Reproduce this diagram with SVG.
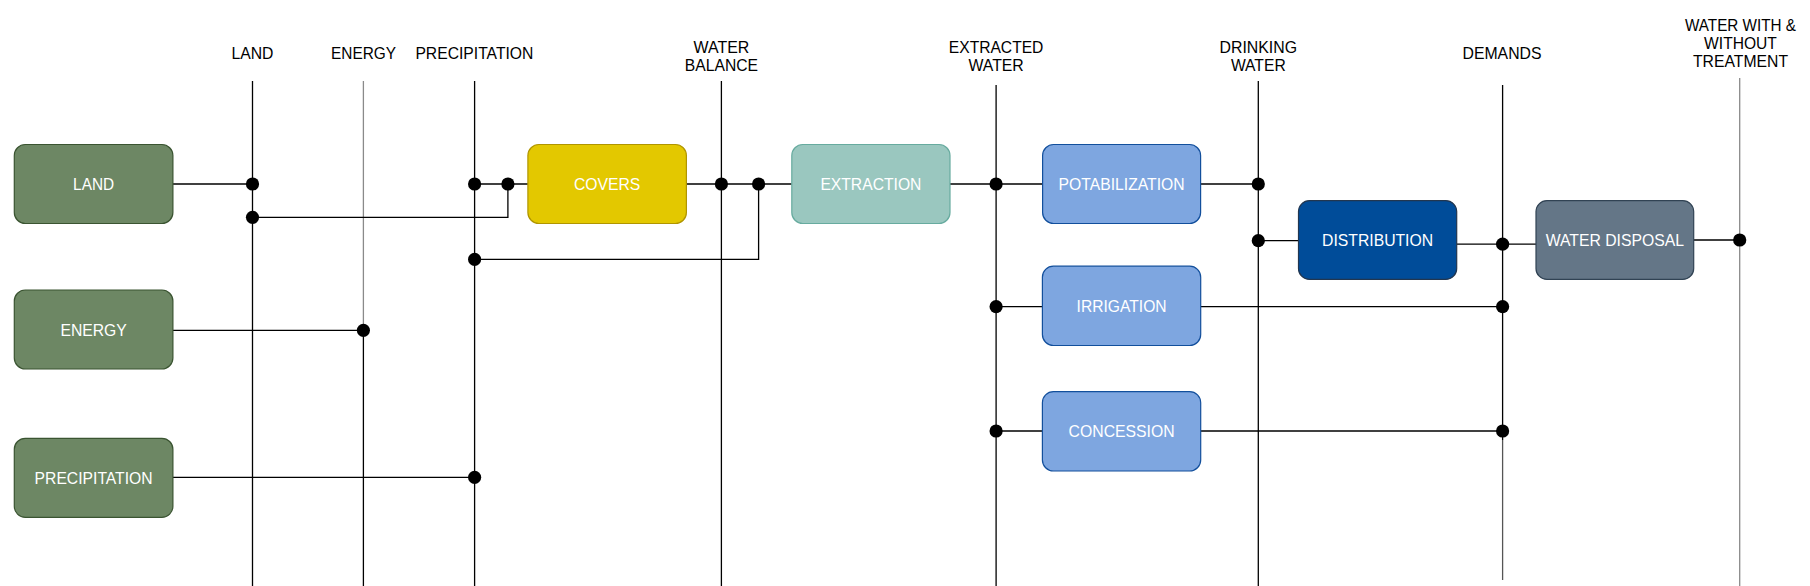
<svg xmlns="http://www.w3.org/2000/svg" width="1810" height="586" viewBox="0 0 1810 586">
<style>
.lbl{font-family:"Liberation Sans",Arial,sans-serif;font-size:17px;fill:#000;text-anchor:middle}
.bl{font-family:"Liberation Sans",Arial,sans-serif;font-size:17px;fill:#fff;text-anchor:middle}
.ln{stroke:#000;stroke-width:1.3;fill:none}
.lg{stroke:#8a8a8a;stroke-width:1.3;fill:none}
.dot{fill:#000}
.green{fill:#6d8764;stroke:#3a5431;stroke-width:1.2}
.yellow{fill:#e3c800;stroke:#b09500;stroke-width:1.2}
.teal{fill:#9ac7bf;stroke:#67ab9f;stroke-width:1.2}
.lblue{fill:#7ea6e0;stroke:#124f9c;stroke-width:1.2}
.dblue{fill:#004c99;stroke:#22364f;stroke-width:1.2}
.slate{fill:#647687;stroke:#314354;stroke-width:1.2}
</style>

<g id="axis-labels">
<text class="lbl" x="252.5" y="58.8" textLength="42" lengthAdjust="spacingAndGlyphs">LAND</text>
<text class="lbl" x="363.6" y="58.8" textLength="65" lengthAdjust="spacingAndGlyphs">ENERGY</text>
<text class="lbl" x="474.4" y="58.8" textLength="118" lengthAdjust="spacingAndGlyphs">PRECIPITATION</text>
<text class="lbl" x="721.4" y="53.4" textLength="55.7" lengthAdjust="spacingAndGlyphs">WATER</text>
<text class="lbl" x="721.4" y="71.1" textLength="73.2" lengthAdjust="spacingAndGlyphs">BALANCE</text>
<text class="lbl" x="996.1" y="53.4" textLength="94.6" lengthAdjust="spacingAndGlyphs">EXTRACTED</text>
<text class="lbl" x="996.1" y="71.1" textLength="55.4" lengthAdjust="spacingAndGlyphs">WATER</text>
<text class="lbl" x="1258.3" y="53.4" textLength="77.5" lengthAdjust="spacingAndGlyphs">DRINKING</text>
<text class="lbl" x="1258.3" y="71.1" textLength="54.8" lengthAdjust="spacingAndGlyphs">WATER</text>
<text class="lbl" x="1502" y="58.8" textLength="79" lengthAdjust="spacingAndGlyphs">DEMANDS</text>
<text class="lbl" x="1740.5" y="31.1" textLength="111" lengthAdjust="spacingAndGlyphs">WATER WITH &amp;</text>
<text class="lbl" x="1740.5" y="49.4" textLength="72.8" lengthAdjust="spacingAndGlyphs">WITHOUT</text>
<text class="lbl" x="1740.5" y="67.1" textLength="95" lengthAdjust="spacingAndGlyphs">TREATMENT</text>
</g>

<g id="connectors">
<line class="ln" x1="252.5" y1="81" x2="252.5" y2="586"/>
<line class="lg" x1="363.4" y1="81" x2="363.4" y2="330"/>
<line class="ln" x1="363.4" y1="330" x2="363.4" y2="586"/>
<line class="ln" x1="474.6" y1="81" x2="474.6" y2="586"/>
<line class="ln" x1="721.4" y1="81" x2="721.4" y2="586"/>
<line class="ln" x1="996.1" y1="85" x2="996.1" y2="586"/>
<line class="ln" x1="1258.3" y1="81" x2="1258.3" y2="586"/>
<line class="ln" x1="1502.6" y1="85" x2="1502.6" y2="440"/>
<line stroke="#555" stroke-width="1.3" x1="1502.6" y1="440" x2="1502.6" y2="580"/>
<line class="lg" x1="1739.7" y1="78" x2="1739.7" y2="586"/>
<line class="ln" x1="172.9" y1="184" x2="252.5" y2="184"/>
<polyline class="ln" points="252.5,217.3 507.9,217.3 507.9,184"/>
<line class="ln" x1="474.6" y1="184" x2="527.9" y2="184"/>
<line class="ln" x1="686.4" y1="184" x2="791.8" y2="184"/>
<polyline class="ln" points="758.6,184 758.6,259.3 474.6,259.3"/>
<line class="ln" x1="950" y1="184" x2="1042.6" y2="184"/>
<line class="ln" x1="1200.6" y1="184" x2="1258.3" y2="184"/>
<line class="ln" x1="1258.3" y1="240.7" x2="1298.5" y2="240.7"/>
<line class="ln" x1="1456.7" y1="244.2" x2="1536" y2="244.2"/>
<line class="ln" x1="1693.7" y1="240" x2="1739.7" y2="240"/>
<line class="ln" x1="996.1" y1="306.7" x2="1042.4" y2="306.7"/>
<line class="ln" x1="1200.7" y1="306.7" x2="1502.6" y2="306.7"/>
<line class="ln" x1="996.1" y1="431" x2="1042.4" y2="431"/>
<line class="ln" x1="1200.7" y1="431" x2="1502.6" y2="431"/>
<line class="ln" x1="172.9" y1="330.3" x2="363.4" y2="330.3"/>
<line class="ln" x1="172.9" y1="477.3" x2="474.6" y2="477.3"/>
<circle class="dot" cx="252.5" cy="184" r="6.6"/>
<circle class="dot" cx="252.5" cy="217.3" r="6.6"/>
<circle class="dot" cx="474.6" cy="184" r="6.6"/>
<circle class="dot" cx="507.9" cy="184" r="6.6"/>
<circle class="dot" cx="474.6" cy="259.3" r="6.6"/>
<circle class="dot" cx="721.4" cy="184" r="6.6"/>
<circle class="dot" cx="758.6" cy="184" r="6.6"/>
<circle class="dot" cx="996.1" cy="184" r="6.6"/>
<circle class="dot" cx="1258.3" cy="184" r="6.6"/>
<circle class="dot" cx="1258.3" cy="240.7" r="6.6"/>
<circle class="dot" cx="1502.6" cy="244.2" r="6.6"/>
<circle class="dot" cx="1739.7" cy="240" r="6.6"/>
<circle class="dot" cx="996.1" cy="306.7" r="6.6"/>
<circle class="dot" cx="1502.6" cy="306.7" r="6.6"/>
<circle class="dot" cx="996.1" cy="431" r="6.6"/>
<circle class="dot" cx="1502.6" cy="431" r="6.6"/>
<circle class="dot" cx="363.4" cy="330.3" r="6.6"/>
<circle class="dot" cx="474.6" cy="477.3" r="6.6"/>
</g>

<g id="node-land">
<rect class="green" x="14.3" y="144.5" width="158.6" height="79" rx="11"/>
<text class="bl" x="93.6" y="190.1" textLength="41" lengthAdjust="spacingAndGlyphs">LAND</text>
</g>
<g id="node-energy">
<rect class="green" x="14.3" y="290" width="158.6" height="79" rx="11"/>
<text class="bl" x="93.6" y="335.8" textLength="66.4" lengthAdjust="spacingAndGlyphs">ENERGY</text>
</g>
<g id="node-precipitation">
<rect class="green" x="14.3" y="438.3" width="158.6" height="79" rx="11"/>
<text class="bl" x="93.6" y="483.9" textLength="118" lengthAdjust="spacingAndGlyphs">PRECIPITATION</text>
</g>
<g id="node-covers">
<rect class="yellow" x="527.9" y="144.5" width="158.5" height="79" rx="11"/>
<text class="bl" x="607.1" y="190.1" textLength="66.4" lengthAdjust="spacingAndGlyphs">COVERS</text>
</g>
<g id="node-extraction">
<rect class="teal" x="791.8" y="144.5" width="158.2" height="79" rx="11"/>
<text class="bl" x="870.9" y="190.1" textLength="101" lengthAdjust="spacingAndGlyphs">EXTRACTION</text>
</g>
<g id="node-potabilization">
<rect class="lblue" x="1042.6" y="144.5" width="158" height="79" rx="11"/>
<text class="bl" x="1121.6" y="190.1" textLength="126" lengthAdjust="spacingAndGlyphs">POTABILIZATION</text>
</g>
<g id="node-irrigation">
<rect class="lblue" x="1042.4" y="266.2" width="158.3" height="79.3" rx="11"/>
<text class="bl" x="1121.6" y="312.4" textLength="90" lengthAdjust="spacingAndGlyphs">IRRIGATION</text>
</g>
<g id="node-concession">
<rect class="lblue" x="1042.4" y="391.7" width="158.3" height="79.3" rx="11"/>
<text class="bl" x="1121.6" y="437.4" textLength="106" lengthAdjust="spacingAndGlyphs">CONCESSION</text>
</g>
<g id="node-distribution">
<rect class="dblue" x="1298.5" y="200.6" width="158.2" height="78.8" rx="11"/>
<text class="bl" x="1377.6" y="246.1" textLength="111" lengthAdjust="spacingAndGlyphs">DISTRIBUTION</text>
</g>
<g id="node-water-disposal">
<rect class="slate" x="1536" y="200.6" width="157.7" height="78.8" rx="11"/>
<text class="bl" x="1614.9" y="246.1" textLength="138.4" lengthAdjust="spacingAndGlyphs">WATER DISPOSAL</text>
</g>
</svg>
